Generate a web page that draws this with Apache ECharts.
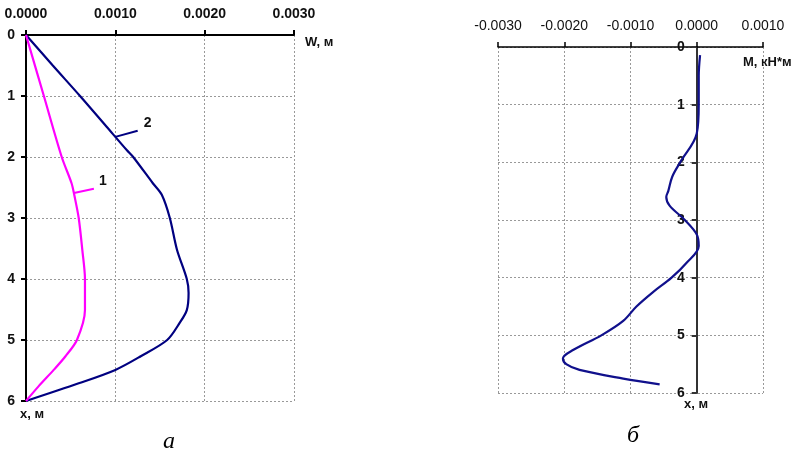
<!DOCTYPE html>
<html><head><meta charset="utf-8">
<script src="https://cdn.jsdelivr.net/npm/echarts@6/dist/echarts.min.js"></script>
<style>html,body{margin:0;padding:0;background:#fff}#c{width:799px;height:459px}</style>
</head><body><div id="c"></div>
<script>
// Left chart (a): deflection W, м vs depth x, м
const wTicks = [0, 0.001, 0.002, 0.003];
const depthTicks = [0, 1, 2, 3, 4, 5, 6];
const depth2 = [0, 0.5, 1, 1.5, 1.89, 2, 2.43, 2.62, 3, 3.52, 4, 4.23, 4.51, 4.72, 5, 5.27, 5.49, 5.71, 6];
const w2 = [0, 0.0003, 0.000605, 0.0009, 0.00113, 0.0012, 0.00142, 0.00152, 0.00161, 0.00169, 0.0018, 0.00182, 0.0018, 0.00172, 0.00158, 0.00128, 0.001, 0.00059, 0];
const depth1 = [0, 1, 2, 2.43, 2.62, 3, 3.52, 4, 4.51, 5, 5.27, 5.49, 5.76, 6];
const w1 = [0, 0.0002, 0.0004, 0.00051, 0.00054, 0.00059, 0.00063, 0.00066, 0.00066, 0.00057, 0.00044, 0.00031, 0.00014, 0];
// leader lines for curve labels: [W, x] start and end
const leader2 = [[0.001, 1.67], [0.00125, 1.57]];
const leader1 = [[0.000537, 2.59], [0.00076, 2.52]];
const curveNames = ['1', '2'];
// Right chart (б): moment M, кН*м vs depth
const mTicks = [-0.003, -0.002, -0.001, 0, 0.001];
const depthM = [0.14, 0.5, 1, 1.5, 2, 2.25, 2.5, 2.6, 2.75, 3, 3.25, 3.45, 3.75, 4, 4.25, 4.5, 4.75, 5, 5.25, 5.4, 5.5, 5.6, 5.75, 5.85];
const mVals = [0.00005, 0.00003, 0.00003, 0, -0.00025, -0.00037, -0.00043, -0.00046, -0.00041, -0.00018, 0, 0.00003, -0.00016, -0.00038, -0.00066, -0.00091, -0.00111, -0.00144, -0.00186, -0.00202, -0.00197, -0.00177, -0.00111, -0.00056];

const pairs = (xs, ys) => xs.map((v, i) => [v, ys[i]]);
const fmt = v => v.toFixed(4);
const grid = { color: '#999', type: [2, 2], width: 1 };
const rightGridWidth = 265;
// shift the right chart's depth axis onto M = 0
const zeroOffset = -rightGridWidth * (0 - mTicks[0]) / (mTicks[mTicks.length - 1] - mTicks[0]);

const chart = echarts.init(document.getElementById('c'), null, { renderer: 'canvas' });
chart.setOption({
  animation: false,
  backgroundColor: '#fff',
  grid: [
    { left: 26, top: 35, width: 268, height: 366 },
    { left: 498, top: 47, width: rightGridWidth, height: 346 }
  ],
  xAxis: [
    { gridIndex: 0, type: 'value', position: 'top', min: wTicks[0], max: wTicks[wTicks.length - 1], interval: 0.001,
      axisLine: { lineStyle: { color: '#000', width: 2 } },
      axisTick: { length: 5, lineStyle: { color: '#000', width: 2 } },
      axisLabel: { formatter: fmt, margin: 14, color: '#111', fontFamily: 'Liberation Sans, Arial', fontWeight: 'bold', fontSize: 14 },
      splitLine: { show: true, lineStyle: grid } },
    { gridIndex: 1, type: 'value', position: 'top', min: mTicks[0], max: mTicks[mTicks.length - 1], interval: 0.001,
      axisLine: { onZero: false, lineStyle: { color: '#000', width: 1.5 } },
      axisTick: { length: 5, lineStyle: { color: '#000', width: 1.5 } },
      axisLabel: { formatter: fmt, margin: 14, color: '#111', fontFamily: 'Liberation Sans, Arial', fontSize: 14 },
      splitLine: { show: true, lineStyle: grid } }
  ],
  yAxis: [
    { gridIndex: 0, type: 'value', inverse: true, min: depthTicks[0], max: depthTicks[depthTicks.length - 1], interval: 1,
      axisLine: { show: true, onZero: false, lineStyle: { color: '#000', width: 2 } },
      axisTick: { show: true, length: 5, lineStyle: { color: '#000', width: 2 } },
      axisLabel: { margin: 11, color: '#111', fontFamily: 'Liberation Sans, Arial', fontWeight: 'bold', fontSize: 14 },
      splitLine: { show: true, lineStyle: grid } },
    { gridIndex: 1, type: 'value', inverse: true, position: 'left', offset: zeroOffset,
      min: depthTicks[0], max: depthTicks[depthTicks.length - 1], interval: 1,
      axisLine: { show: true, onZero: false, lineStyle: { color: '#333', width: 2 } },
      axisTick: { show: true, length: 5, lineStyle: { color: '#333', width: 2 } },
      axisLabel: { margin: 12, color: '#111', fontFamily: 'Liberation Sans, Arial', fontWeight: 'bold', fontSize: 14 },
      splitLine: { show: true, lineStyle: grid } }
  ],
  series: [
    { type: 'line', xAxisIndex: 0, yAxisIndex: 0, data: pairs(w2, depth2), smooth: 0.3, symbol: 'none',
      lineStyle: { color: '#000080', width: 2.2 } },
    { type: 'line', xAxisIndex: 0, yAxisIndex: 0, data: pairs(w1, depth1), smooth: 0.3, symbol: 'none',
      lineStyle: { color: '#ff00ff', width: 2.2 } },
    { type: 'line', xAxisIndex: 0, yAxisIndex: 0, data: leader2, symbol: 'none', lineStyle: { color: '#000080', width: 2 },
      endLabel: { show: true, formatter: curveNames[1], offset: [-2, -8], color: '#111', fontFamily: 'Liberation Sans, Arial', fontWeight: 'bold', fontSize: 14 } },
    { type: 'line', xAxisIndex: 0, yAxisIndex: 0, data: leader1, symbol: 'none', lineStyle: { color: '#ff00ff', width: 2 },
      endLabel: { show: true, formatter: curveNames[0], offset: [-3, -8], color: '#111', fontFamily: 'Liberation Sans, Arial', fontWeight: 'bold', fontSize: 14 } },
    { type: 'line', xAxisIndex: 1, yAxisIndex: 1, data: pairs(mVals, depthM), smooth: 0.35, symbol: 'none',
      lineStyle: { color: '#10108c', width: 2.2 } }
  ],
  graphic: [
    { type: 'text', left: 305, top: 36, style: { text: 'W, м', fill: '#111', font: 'bold 13px "Liberation Sans", Arial' } },
    { type: 'text', left: 20, top: 408, style: { text: 'x, м', fill: '#111', font: 'bold 13px "Liberation Sans", Arial' } },
    { type: 'text', left: 743, top: 56, style: { text: 'M, кН*м', fill: '#111', font: 'bold 13px "Liberation Sans", Arial' } },
    { type: 'text', left: 684, top: 398, style: { text: 'x, м', fill: '#111', font: 'bold 13px "Liberation Sans", Arial' } },
    { type: 'text', left: 163, top: 430, style: { text: 'а', fill: '#000', font: 'italic 24px "Liberation Serif", "Times New Roman", serif' } },
    { type: 'text', left: 627, top: 424, style: { text: 'б', fill: '#000', font: 'italic 24px "Liberation Serif", "Times New Roman", serif' } }
  ]
});
</script></body></html>
